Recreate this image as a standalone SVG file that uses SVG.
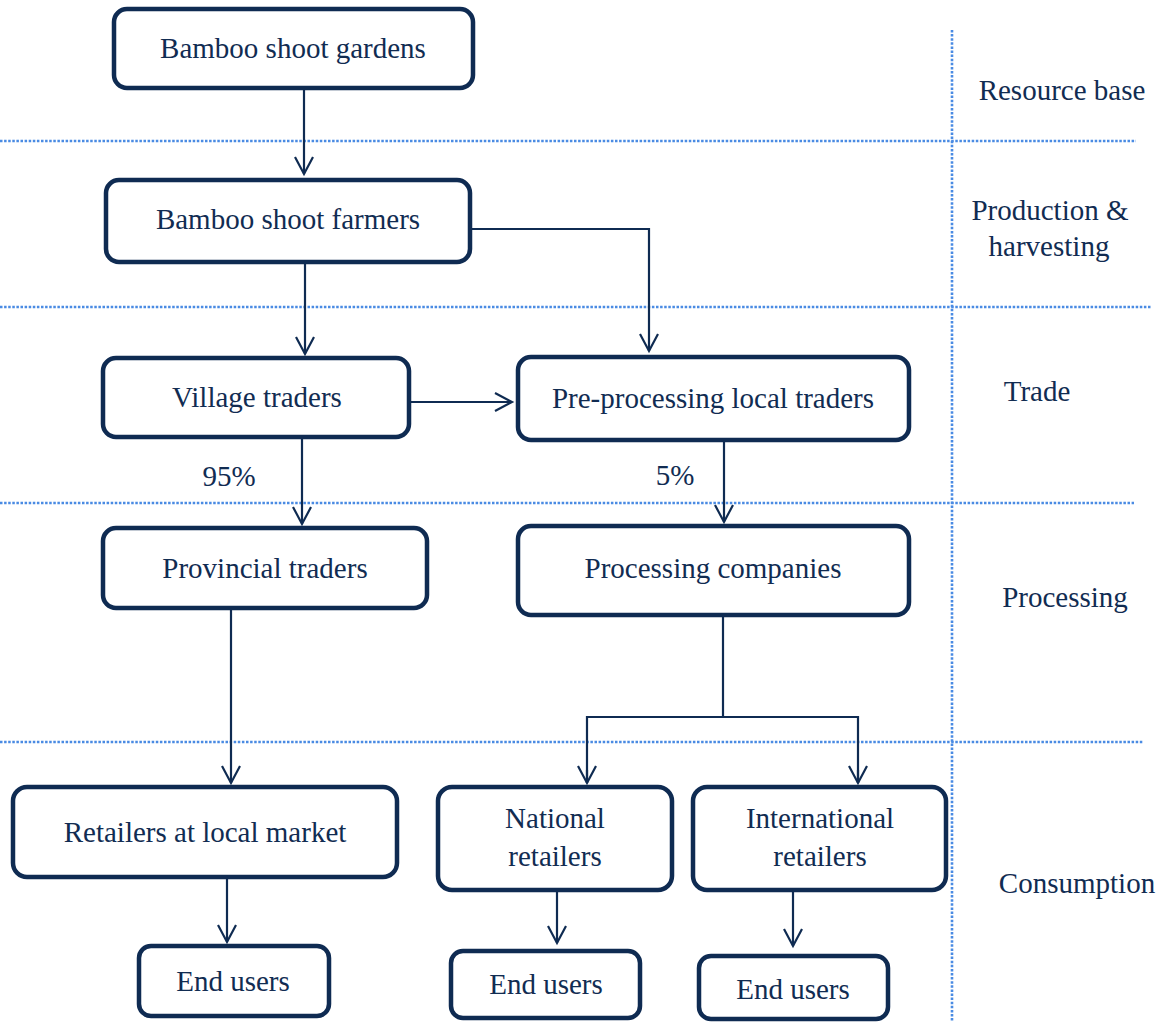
<svg xmlns="http://www.w3.org/2000/svg" width="1157" height="1022" viewBox="0 0 1157 1022">
<style>
.box{fill:#fff;stroke:#0f2b52;stroke-width:4.5}
.t{font-family:"Liberation Serif","Times New Roman",serif;font-size:29px;fill:#112c52;text-anchor:middle}
.c{fill:none;stroke:#0f2b52;stroke-width:2.2}
.d{fill:none;stroke:#4a8be3;stroke-width:2.6;stroke-dasharray:2.5 1.6}
</style>
<defs>
<marker id="ah" markerUnits="userSpaceOnUse" viewBox="-20 -12 24 24" refX="0" refY="0" markerWidth="24" markerHeight="24" orient="auto">
<path d="M-17,-9 L0,0 L-17,9" fill="none" stroke="#0f2b52" stroke-width="2.2"/>
</marker>
</defs>
<rect width="1157" height="1022" fill="#fff"/>
<g id="guides">
<line class="d" x1="0" y1="141" x2="1136" y2="141"/>
<line class="d" x1="0" y1="307" x2="1152" y2="307"/>
<line class="d" x1="0" y1="503" x2="1134" y2="503"/>
<line class="d" x1="0" y1="742" x2="1143" y2="742"/>
<line class="d" x1="952" y1="30" x2="952" y2="1022"/>
</g>
<g id="connectors">
<line class="c" x1="304" y1="90" x2="304" y2="174" marker-end="url(#ah)"/>
<line class="c" x1="305" y1="263" x2="305" y2="354" marker-end="url(#ah)"/>
<polyline class="c" points="471,229 649,229 649,351" marker-end="url(#ah)"/>
<line class="c" x1="410" y1="402" x2="512" y2="402" marker-end="url(#ah)"/>
<line class="c" x1="302" y1="439" x2="302" y2="524" marker-end="url(#ah)"/>
<line class="c" x1="724" y1="442" x2="724" y2="522" marker-end="url(#ah)"/>
<line class="c" x1="231" y1="609" x2="231" y2="783" marker-end="url(#ah)"/>
<polyline class="c" points="723,617 723,717"/>
<polyline class="c" points="587,783 587,717 858,717 858,783"/>
<line class="c" x1="587" y1="770" x2="587" y2="783" marker-end="url(#ah)"/>
<line class="c" x1="858" y1="770" x2="858" y2="783" marker-end="url(#ah)"/>
<line class="c" x1="227" y1="879" x2="227" y2="942" marker-end="url(#ah)"/>
<line class="c" x1="557" y1="892" x2="557" y2="943" marker-end="url(#ah)"/>
<line class="c" x1="793" y1="892" x2="793" y2="946" marker-end="url(#ah)"/>
<text class="t" x="229" y="486">95%</text>
<text class="t" x="675" y="485">5%</text>
</g>
<g id="n-gardens"><rect class="box" x="114" y="9" width="359" height="79" rx="13"/><text class="t" x="293" y="58">Bamboo shoot gardens</text></g>
<g id="n-farmers"><rect class="box" x="106" y="180" width="364" height="82" rx="13"/><text class="t" x="288" y="229">Bamboo shoot farmers</text></g>
<g id="n-village"><rect class="box" x="103" y="358" width="306" height="79" rx="13"/><text class="t" x="257" y="407">Village traders</text></g>
<g id="n-preproc"><rect class="box" x="518" y="357" width="391" height="83" rx="13"/><text class="t" x="713" y="408">Pre-processing local traders</text></g>
<g id="n-provincial"><rect class="box" x="103" y="528" width="324" height="80" rx="13"/><text class="t" x="265" y="578">Provincial traders</text></g>
<g id="n-processing"><rect class="box" x="518" y="526" width="391" height="89" rx="13"/><text class="t" x="713" y="578">Processing companies</text></g>
<g id="n-local"><rect class="box" x="13" y="787" width="384" height="90" rx="14"/><text class="t" x="205" y="842">Retailers at local market</text></g>
<g id="n-national"><rect class="box" x="438" y="787" width="234" height="103" rx="14"/><text class="t" x="555" y="828">National</text><text class="t" x="555" y="866">retailers</text></g>
<g id="n-international"><rect class="box" x="693" y="787" width="253" height="103" rx="14"/><text class="t" x="820" y="828">International</text><text class="t" x="820" y="866">retailers</text></g>
<g id="n-end1"><rect class="box" x="139" y="946" width="190" height="70" rx="12"/><text class="t" x="233" y="991">End users</text></g>
<g id="n-end2"><rect class="box" x="451" y="951" width="189" height="67" rx="12"/><text class="t" x="546" y="994">End users</text></g>
<g id="n-end3"><rect class="box" x="699" y="956" width="189" height="63" rx="12"/><text class="t" x="793" y="999">End users</text></g>
<g id="labels">
<text class="t" x="1062" y="100">Resource base</text>
<text class="t" x="1050" y="220">Production &amp;</text>
<text class="t" x="1049" y="256">harvesting</text>
<text class="t" x="1037" y="401">Trade</text>
<text class="t" x="1065" y="607">Processing</text>
<text class="t" x="1077" y="893">Consumption</text>
</g>
</svg>
